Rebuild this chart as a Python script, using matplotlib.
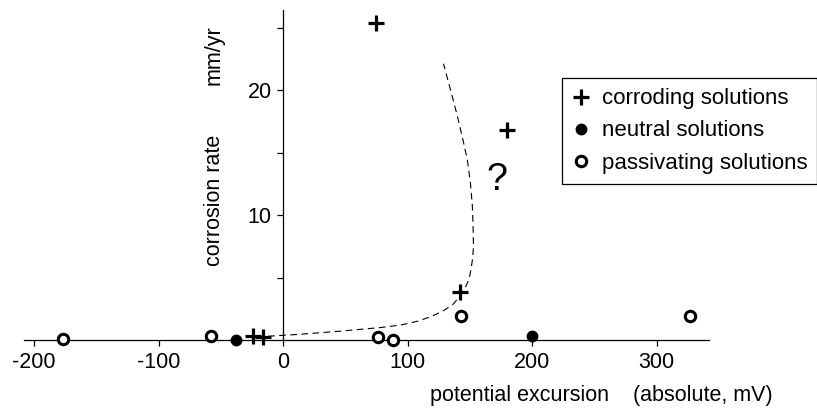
import matplotlib
matplotlib.use("Agg")
import matplotlib.pyplot as plt

plt.rcParams["font.family"] = ["Liberation Sans", "DejaVu Sans"]

# data (x: mV, y: mm/yr)
corroding_x = [75, 180, 142, -24, -16]
corroding_y = [25.4, 16.8, 3.85, 0.35, 0.27]

neutral_x = [-38, 200]
neutral_y = [0.0, 0.35]

passivating_x = [-177, -58, 76, 88, 143, 327]
passivating_y = [0.05, 0.3, 0.27, 0.0, 1.95, 1.95]

# hand-drawn trend line (dashed)
trend_x = [-12, 14, 45, 78.6, 94.6, 108, 118.7, 128, 136, 142, 146.8, 149.5, 150.8, 152.2, 152.9, 152.6, 152, 150.5, 148, 144, 140, 134.5, 128.8]
trend_y = [0.3, 0.46, 0.7, 1.0, 1.2, 1.5, 1.87, 2.3, 2.8, 3.5, 4.3, 4.9, 5.6, 6.5, 7.5, 9.0, 10.7, 12.5, 14.4, 16.2, 17.9, 20.0, 22.1]

x_ticks = [-200, -100, 0, 100, 200, 300]
y_ticks = [5, 10, 15, 20, 25]
y_tick_labels = ["", "10", "", "20", ""]

W, H = 817, 418
fig = plt.figure(figsize=(W / 100, H / 100), dpi=100)
ax = fig.add_axes([24 / W, 1 - 340 / H, (709 - 24) / W, (340 - 10) / H])
ax.set_xlim(-208, 342)
ax.set_ylim(0, 26.4)

for side in ("top", "right"):
    ax.spines[side].set_visible(False)
ax.spines["left"].set_position(("data", 0))
for side in ("left", "bottom"):
    ax.spines[side].set_linewidth(0.9)
    ax.spines[side].set_color("black")

ax.set_xticks(x_ticks)
ax.set_xticklabels([str(v) for v in x_ticks])
ax.set_yticks(y_ticks)
ax.set_yticklabels(y_tick_labels)
ax.tick_params(axis="both", direction="out", length=4.3, width=0.9, labelsize=15.5, pad=4)

ax.plot(trend_x, trend_y, color="black", linestyle=(0, (6, 4)), linewidth=0.8)

ax.plot(corroding_x, corroding_y, linestyle="none", marker="+", markersize=11,
        markeredgewidth=2.3, color="black", clip_on=False, label="corroding solutions", zorder=4)
ax.plot(neutral_x, neutral_y, linestyle="none", marker="o", markersize=7.5,
        color="black", clip_on=False, label="neutral solutions", zorder=4)
ax.plot(passivating_x, passivating_y, linestyle="none", marker="o", markersize=7.5,
        markerfacecolor="white", markeredgecolor="black", markeredgewidth=2.2,
        clip_on=False, label="passivating solutions", zorder=4)

ax.text(-55, 11.2, "corrosion rate", rotation=90, ha="center", va="center", fontsize=15.5)
ax.text(-55, 22.8, "mm/yr", rotation=90, ha="center", va="center", fontsize=15.5)
ax.text(172, 12.8, "?", ha="center", va="center", fontsize=27)

fig.text(430 / W, 1 - 396 / H, "potential excursion    (absolute, mV)",
         ha="left", va="center", fontsize=15.5)

leg = ax.legend(loc="upper left", bbox_to_anchor=(561.7 / W, 1 - 78.3 / H),
                bbox_transform=fig.transFigure, borderaxespad=0, fontsize=16,
                frameon=True, fancybox=False, edgecolor="black", framealpha=1,
                handlelength=0.8, handletextpad=0.55, labelspacing=0.5,
                borderpad=0.45)
leg.get_frame().set_linewidth(0.9)

fig.savefig("out.png", dpi=100)
